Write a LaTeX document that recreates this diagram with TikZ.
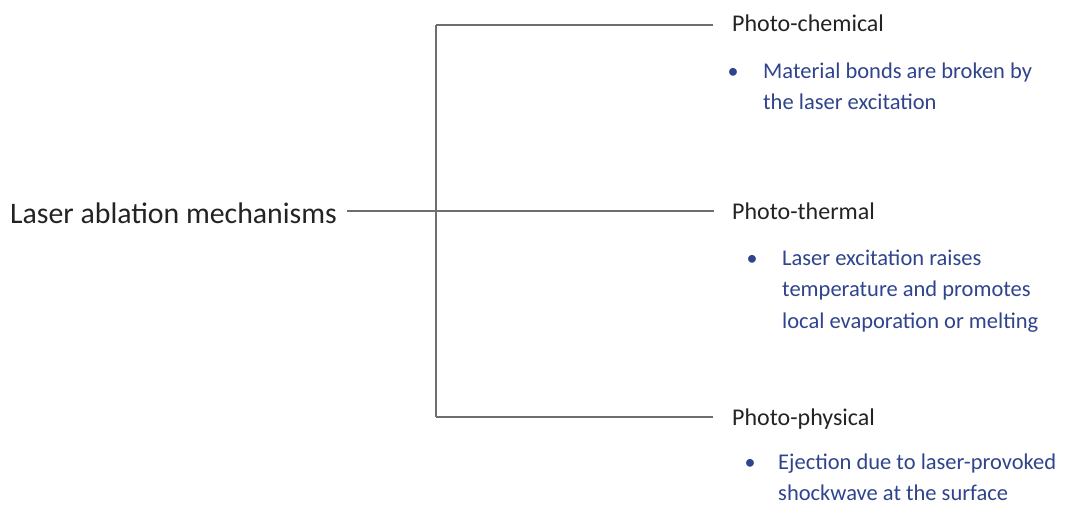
\documentclass[tikz,border=0pt]{standalone}
\usepackage{fontspec}
\setmainfont{Carlito}
\definecolor{bulletblue}{RGB}{47,68,140}
\definecolor{linegray}{RGB}{110,110,110}
\definecolor{labelblack}{RGB}{35,35,35}
\begin{document}
\begin{tikzpicture}[x=1pt,y=-1pt,
  conn/.style={draw=linegray,line width=1.4pt},
  root/.style={anchor=base west,inner sep=0pt,text=labelblack,font=\fontsize{29.8}{34}\selectfont},
  branch/.style={anchor=base west,inner sep=0pt,text=labelblack,font=\fontsize{24}{28}\selectfont},
  % the base anchor of a multi-line note sits on its last line
  note/.style={anchor=base west,inner sep=0pt,text=bulletblue,align=left,
    font=\fontsize{22.5}{31.5}\selectfont},
  dot/.style={anchor=base,inner sep=0pt,text=bulletblue,font=\fontsize{22}{26}\selectfont}]
\useasboundingbox (0,0) rectangle (1067,515);
% root and the three mechanisms
\node[root] (root) at (10,223) {Laser ablation mechanisms};
\node[branch] (chem) at (732,31) {Photo-chemical};
\node[branch] (therm) at (732,219) {Photo-thermal};
\node[branch] (phys) at (732,425) {Photo-physical};
% bracket joining the root to each mechanism
\coordinate (top) at (436,25);
\coordinate (bot) at (436,417);
\coordinate (chemend) at (713,25);
\coordinate (thermend) at (714,211);
\coordinate (physend) at (713,417);
\coordinate (rootend) at (347,211);
\draw[conn] (top) -- (bot);
\draw[conn] (top) -- (chemend);
\draw[conn] (rootend) -- (thermend);
\draw[conn] (bot) -- (physend);
% descriptions
\node[dot] (b1) at (733,78) {•};
\node[note] (d1) at (763,109.5) {Material bonds are broken by\\the laser excitation};
\node[dot] (b2) at (752,265) {•};
\node[note] (d2) at (782,328) {Laser excitation raises\\temperature and promotes\\local evaporation or melting};
\node[dot] (b3) at (750,469) {•};
\node[note] (d3) at (778,500.5) {Ejection due to laser-provoked\\shockwave at the surface};
\end{tikzpicture}
\end{document}
